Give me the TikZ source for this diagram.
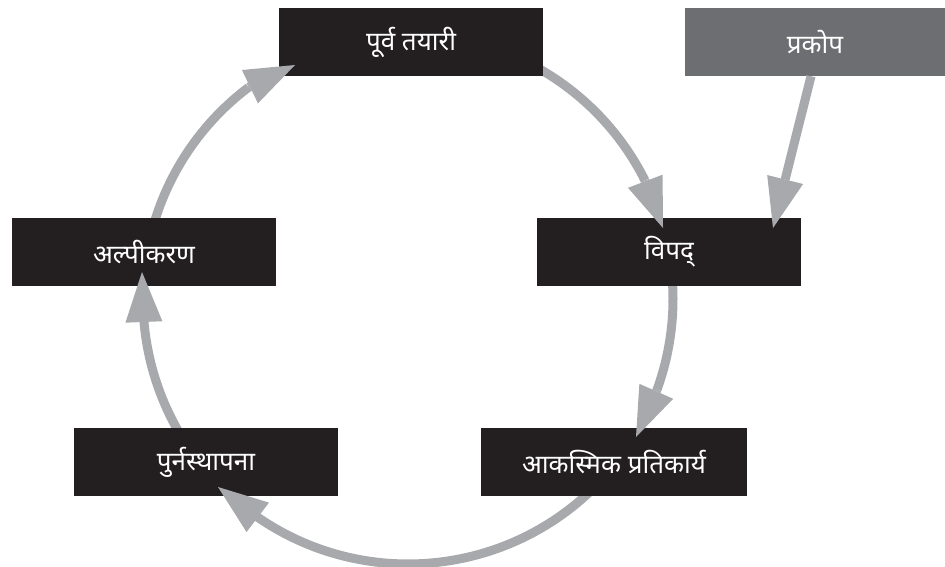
\documentclass[tikz,border=0pt]{standalone}
\usepackage{fontspec}
\newfontfamily\deva[Script=Devanagari]{Noto Sans}
\usetikzlibrary{arrows.meta,calc}
\definecolor{boxblack}{HTML}{231F20}
\definecolor{boxgray}{HTML}{6D6E71}
\definecolor{arrowgray}{HTML}{A7A9AC}
\begin{document}
\begin{tikzpicture}[x=1pt,y=-1pt,
  phase/.style={fill=boxblack, text=white, minimum width=264pt, minimum height=68pt,
    inner sep=0pt, font=\deva\fontsize{26}{30}\selectfont},
  hazard/.style={phase, fill=boxgray, minimum width=260pt},
  shaft/.style={draw=arrowgray, line width=9pt},
  head/.style={draw=arrowgray, line width=9pt,
    -{Triangle[length=50pt,width=37pt,line width=0pt]}}]
\useasboundingbox (0,0) rectangle (945,566);
\clip (0,0) rectangle (945,566);
\coordinate (C) at (408,299);
% shafts (behind the boxes)
\draw[shaft] ($(C)+(-62:265)$) arc[start angle=-62, end angle=-26.6, radius=265] coordinate (b1);
\draw[shaft] ($(C)+(-8:265)$) arc[start angle=-8, end angle=20, radius=265] coordinate (b2);
\draw[shaft] ($(C)+(44:265)$) arc[start angle=44, end angle=124.7, radius=265] coordinate (b3);
\draw[shaft] ($(C)+(148:265)$) arc[start angle=148, end angle=175.5, radius=265] coordinate (b4);
\draw[shaft] ($(C)+(196:265)$) arc[start angle=196, end angle=233, radius=265] coordinate (b5);
% boxes
\node[phase] (purva) at (411,42) {पूर्व तयारी};
\node[hazard] (prakop) at (815,42) {प्रकोप};
\node[phase] (vipad) at (669,252) {विपद्};
\node[phase] (alpi) at (144,252) {अल्पीकरण};
\node[phase, minimum width=266pt] (akasmik) at (614,462) {आकस्मिक प्रतिकार्य};
\node[phase] (punar) at (206,462) {पुर्नस्थापना};
% arrow tips
\coordinate (t1) at (663,228);
\coordinate (t2) at (636,437);
\coordinate (t3) at (218,487);
\coordinate (t4) at (142,272);
\coordinate (t5) at (295,65);
\coordinate (t6) at (773,228);
\coordinate (p0) at ($(prakop.south)+(-4,0)$);
\draw[head] (b1) -- (t1);
\draw[head] (b2) -- (t2);
\draw[head] (b3) -- (t3);
\draw[head] (b4) -- (t4);
\draw[head] (b5) -- (t5);
\draw[head] (p0) -- (t6);
\end{tikzpicture}
\end{document}
